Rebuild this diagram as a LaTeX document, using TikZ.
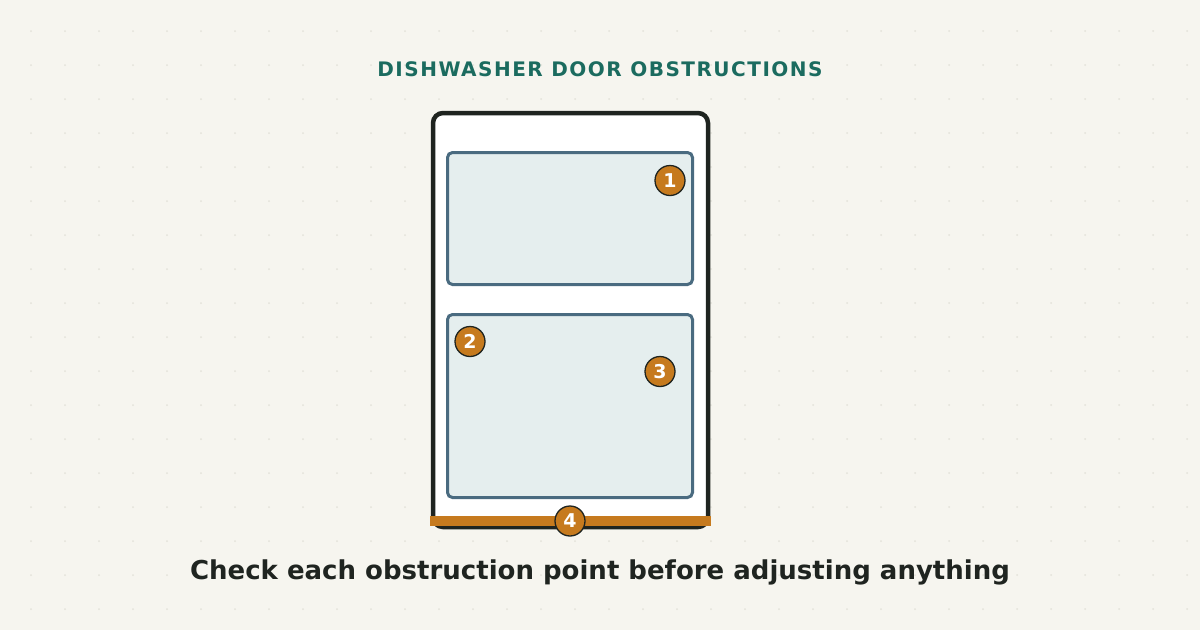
\documentclass[tikz,border=0pt]{standalone}
\usepackage{fontspec}
\setmainfont{DejaVu Sans}
\newfontfamily\titlefont[LetterSpace=7.5]{DejaVu Sans}
\definecolor{bgc}{HTML}{F6F5EF}
\definecolor{dotc}{HTML}{E3E2DA}
\definecolor{ink}{HTML}{1F2420}
\definecolor{teal}{HTML}{1B6B5F}
\definecolor{rackline}{HTML}{4A6B80}
\definecolor{rackfill}{HTML}{E5EEEE}
\definecolor{amber}{HTML}{C67A1E}
\begin{document}
\begin{tikzpicture}[x=1pt,y=-1pt,
  rack/.style={draw=rackline,line width=3pt,fill=rackfill,rounded corners=5pt},
  marker/.style={circle,draw=ink,line width=1.3pt,fill=amber,minimum size=30pt,inner sep=0pt,
    text=white,font=\bfseries\fontsize{19}{19}\selectfont}]
\useasboundingbox (0,0) rectangle (1200,630);
\fill[bgc] (0,0) rectangle (1200,630);
\foreach \i in {0,...,34}{\foreach \j in {0,...,17}{
  \fill[dotc] ({31+34*\i},{31+34*\j}) circle (1pt);}}
\node[font=\titlefont\bfseries\fontsize{20}{20}\selectfont,text=teal] (title) at (600,69) {DISHWASHER DOOR OBSTRUCTIONS};
\draw[ink,line width=4.5pt,fill=white,rounded corners=10pt] (433,113) rectangle (708,527);
\coordinate (door) at (570,320);
\draw[rack] (447.5,152.5) rectangle (692.5,284.5);
\coordinate (rackA) at (570,218);
\draw[rack] (447.5,314.5) rectangle (692.5,497.5);
\coordinate (rackB) at (570,406);
\fill[amber] (430,516) rectangle (711,526);
\coordinate (bar) at (570,521);
\node[marker] (m1) at (670,180.5) {1};
\node[marker] (m2) at (470,341.5) {2};
\node[marker] (m3) at (660,371.5) {3};
\node[marker] (m4) at (570,521) {4};
\node[font=\bfseries\fontsize{26}{26}\selectfont,text=ink] (caption) at (600,572) {Check each obstruction point before adjusting anything};
\end{tikzpicture}
\end{document}
